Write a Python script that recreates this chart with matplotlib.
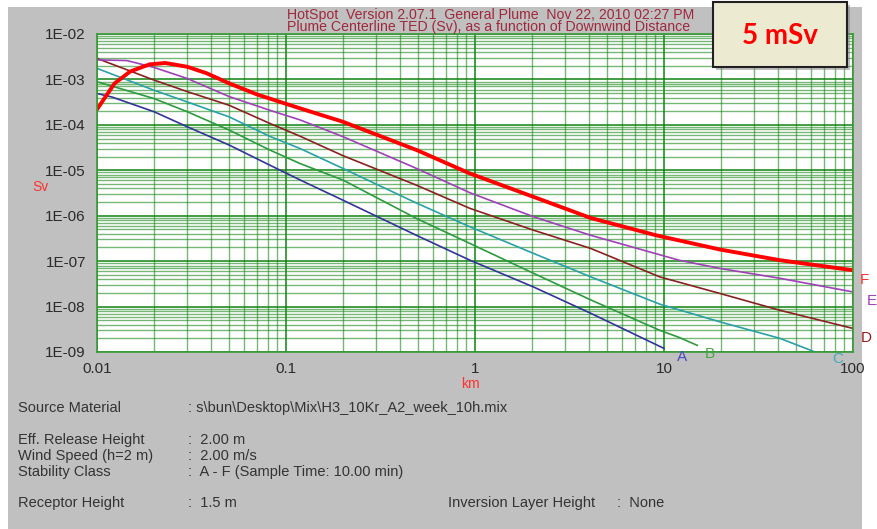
import matplotlib
matplotlib.use("Agg")
import matplotlib.pyplot as plt
from matplotlib import font_manager
from matplotlib.ticker import LogLocator, NullFormatter, FixedLocator
from matplotlib.patches import Rectangle

# dose along plume centerline (Sv) vs downwind distance (km), per stability class
x_a = [0.01, 0.012, 0.02, 0.03, 0.05, 0.082, 0.119, 0.2, 0.49, 0.94, 2.04, 4.1, 10.0]
dose_a = [4.9e-4, 4.1e-4, 1.95e-4, 9.1e-5, 3.6e-5, 1.3e-5, 6.1e-6, 2.2e-6, 3.7e-7, 1.05e-7, 2.7e-8, 7.1e-9, 1.2e-9]

x_b = [0.01, 0.02, 0.03, 0.05, 0.082, 0.119, 0.2, 0.49, 0.94, 2.04, 4.1, 9.5, 12.0, 15.0]
dose_b = [8.9e-4, 3.8e-4, 1.95e-4, 7.7e-5, 2.8e-5, 1.4e-5, 6.1e-6, 8.7e-7, 2.45e-7, 5.4e-8, 1.4e-8, 3.0e-9, 2.1e-9, 1.4e-9]

x_c = [0.01, 0.02, 0.03, 0.05, 0.082, 0.119, 0.2, 0.49, 0.94, 2.04, 4.1, 9.5, 19.8, 41.0, 63.0]
dose_c = [1.75e-3, 5.8e-4, 3.2e-4, 1.5e-4, 5.6e-5, 3.0e-5, 1.1e-5, 1.9e-6, 5.7e-7, 1.48e-7, 4.5e-8, 1.13e-8, 4.6e-9, 2.0e-9, 1.0e-9]

x_d = [0.01, 0.02, 0.03, 0.05, 0.082, 0.119, 0.2, 0.49, 0.94, 2.04, 4.1, 9.5, 19.8, 41.0, 100.0]
dose_d = [2.9e-3, 9.7e-4, 5.4e-4, 2.7e-4, 1.08e-4, 5.6e-5, 2.1e-5, 4.7e-6, 1.45e-6, 4.8e-7, 1.9e-7, 4.5e-8, 1.94e-8, 8.3e-9, 3.3e-9]

x_e = [0.01, 0.0144, 0.02, 0.03, 0.05, 0.082, 0.119, 0.2, 0.49, 0.94, 2.04, 4.1, 12.0, 19.8, 41.0, 100.0]
dose_e = [2.7e-3, 2.6e-3, 1.84e-3, 1.05e-3, 4.2e-4, 2.1e-4, 1.28e-4, 5.5e-5, 1.1e-5, 3.2e-6, 9.5e-7, 3.7e-7, 1.05e-7, 6.9e-8, 4.2e-8, 2.1e-8]

x_f = [0.01, 0.0124, 0.015, 0.019, 0.023, 0.03, 0.038, 0.05, 0.07, 0.093, 0.119, 0.2, 0.49, 0.94, 2.04, 4.1, 9.1, 19.8, 41.0, 100.0]
dose_f = [2.2e-4, 8.2e-4, 1.5e-3, 2.15e-3, 2.3e-3, 1.9e-3, 1.37e-3, 8.2e-4, 4.7e-4, 3.2e-4, 2.3e-4, 1.17e-4, 2.8e-5, 8.5e-6, 2.6e-6, 8.9e-7, 3.7e-7, 1.8e-7, 1.05e-7, 6.3e-8]

y_ticks = [1e-9, 1e-8, 1e-7, 1e-6, 1e-5, 1e-4, 1e-3, 1e-2]
y_tick_labels = ["1E-09", "1E-08", "1E-07", "1E-06", "1E-05", "1E-04", "1E-03", "1E-02"]
x_ticks = [0.01, 0.1, 1, 10, 100]
x_tick_labels = ["0.01", "0.1", "1", "10", "100"]

info_left = ["Source Material", "Eff. Release Height", "Wind Speed (h=2 m)", "Stability Class", "Receptor Height"]
info_right = [": s\\bun\\Desktop\\Mix\\H3_10Kr_A2_week_10h.mix", ":  2.00 m", ":  2.00 m/s", ":  A - F (Sample Time: 10.00 min)", ":  1.5 m"]

names = [f.name for f in font_manager.fontManager.ttflist]
narrow = "Liberation Sans Narrow" if "Liberation Sans Narrow" in names else "Liberation Sans"
plt.rcParams["font.family"] = "Liberation Sans"

W, H = 877, 529
fig = plt.figure(figsize=(W / 100, H / 100), dpi=100)
fig.patch.set_facecolor("white")


def fx(px):
    return px / W


def fy(py):
    return 1 - py / H


# gray panel behind everything
fig.patches.append(Rectangle((fx(8), 0), fx(862) - fx(8), fy(7), transform=fig.transFigure,
                             facecolor="#c0c0c0", edgecolor="none", zorder=-10))

ax = fig.add_axes([fx(97), fy(352), fx(853) - fx(97), fy(34) - fy(352)])
ax.set_facecolor("white")
ax.set_xscale("log")
ax.set_yscale("log")
ax.set_xlim(0.01, 100)
ax.set_ylim(1e-9, 1e-2)

ax.xaxis.set_major_locator(FixedLocator(x_ticks))
ax.set_xticklabels(x_tick_labels)
ax.yaxis.set_major_locator(FixedLocator(y_ticks))
ax.set_yticklabels(y_tick_labels)
ax.xaxis.set_minor_locator(LogLocator(base=10, subs=range(2, 10), numticks=20))
ax.yaxis.set_minor_locator(LogLocator(base=10, subs=range(2, 10), numticks=20))
ax.xaxis.set_minor_formatter(NullFormatter())
ax.yaxis.set_minor_formatter(NullFormatter())
ax.tick_params(which="both", length=0, labelsize=11, labelcolor="#2a2a2a")
ax.tick_params(axis="y", pad=8)
ax.tick_params(axis="x", pad=7)

ax.grid(True, which="major", color="#0a800a", lw=1.2, alpha=0.9)
ax.grid(True, which="minor", color="#1a8a1a", lw=1.0, alpha=0.6)
ax.set_axisbelow(True)
for s in ax.spines.values():
    s.set_color("#3a9a3a")
    s.set_linewidth(1.2)

ax.plot(x_a, dose_a, color="#33339a", lw=1.2)
ax.plot(x_b, dose_b, color="#2e9a3e", lw=1.2)
ax.plot(x_c, dose_c, color="#2aa0a8", lw=1.2)
ax.plot(x_d, dose_d, color="#8b2020", lw=1.2)
ax.plot(x_e, dose_e, color="#a040b8", lw=1.2)
ax.plot(x_f, dose_f, color="#ff0000", lw=2.8)

# curve letters
fig.text(fx(864), fy(280), "F", color="#ff3030", fontsize=11, ha="center", va="center")
fig.text(fx(872), fy(301), "E", color="#a040b8", fontsize=11, ha="center", va="center")
fig.text(fx(866), fy(338), "D", color="#a01818", fontsize=11, ha="center", va="center")
fig.text(fx(682), fy(357), "A", color="#4a4ac0", fontsize=11, ha="center", va="center")
fig.text(fx(710), fy(354), "B", color="#40a840", fontsize=11, ha="center", va="center")
fig.text(fx(838), fy(359), "C", color="#40aabb", fontsize=11, ha="center", va="center")

fig.text(fx(40), fy(187), "Sv", color="#ff3030", fontsize=10, ha="center", va="center")
fig.text(fx(470), fy(384), "km", color="#ff3030", fontsize=10, ha="center", va="center")

# header lines (partly hidden by the dose box)
fig.text(fx(287), fy(19), "HotSpot  Version 2.07.1  General Plume  Nov 22, 2010 02:27 PM",
         color="#a0283c", fontsize=10.2, ha="left", va="baseline", zorder=2)
fig.text(fx(287), fy(31), "Plume Centerline TED (Sv), as a function of Downwind Distance",
         color="#a0283c", fontsize=10.2, ha="left", va="baseline", zorder=2)

# "5 mSv" callout
fig.patches.append(Rectangle((fx(716), fy(70)), fx(850) - fx(716), fy(5) - fy(70), transform=fig.transFigure,
                             facecolor="#808080", edgecolor="none", alpha=0.5, zorder=5))
fig.patches.append(Rectangle((fx(713), fy(67)), fx(847) - fx(713), fy(2) - fy(67), transform=fig.transFigure,
                             facecolor="#ecebd2", edgecolor="#202020", lw=1.5, zorder=6))
fig.text(fx(780), fy(36), "5 mSv", color="#ff0000", fontsize=20, fontweight="bold",
         family="Lato", ha="center", va="center", zorder=7)

# run info below the chart
rows_y = [408, 440, 456, 472, 503]
for lab, val, py in zip(info_left, info_right, rows_y):
    fig.text(fx(18), fy(py), lab, color="#333333", fontsize=10.5, family=narrow, ha="left", va="center")
    fig.text(fx(188), fy(py), val, color="#333333", fontsize=10.5, family=narrow, ha="left", va="center")
fig.text(fx(448), fy(503), "Inversion Layer Height", color="#333333", fontsize=10.5, family=narrow,
         ha="left", va="center")
fig.text(fx(617), fy(503), ":  None", color="#333333", fontsize=10.5, family=narrow, ha="left", va="center")

fig.savefig("out.png", dpi=100, facecolor=fig.get_facecolor())
